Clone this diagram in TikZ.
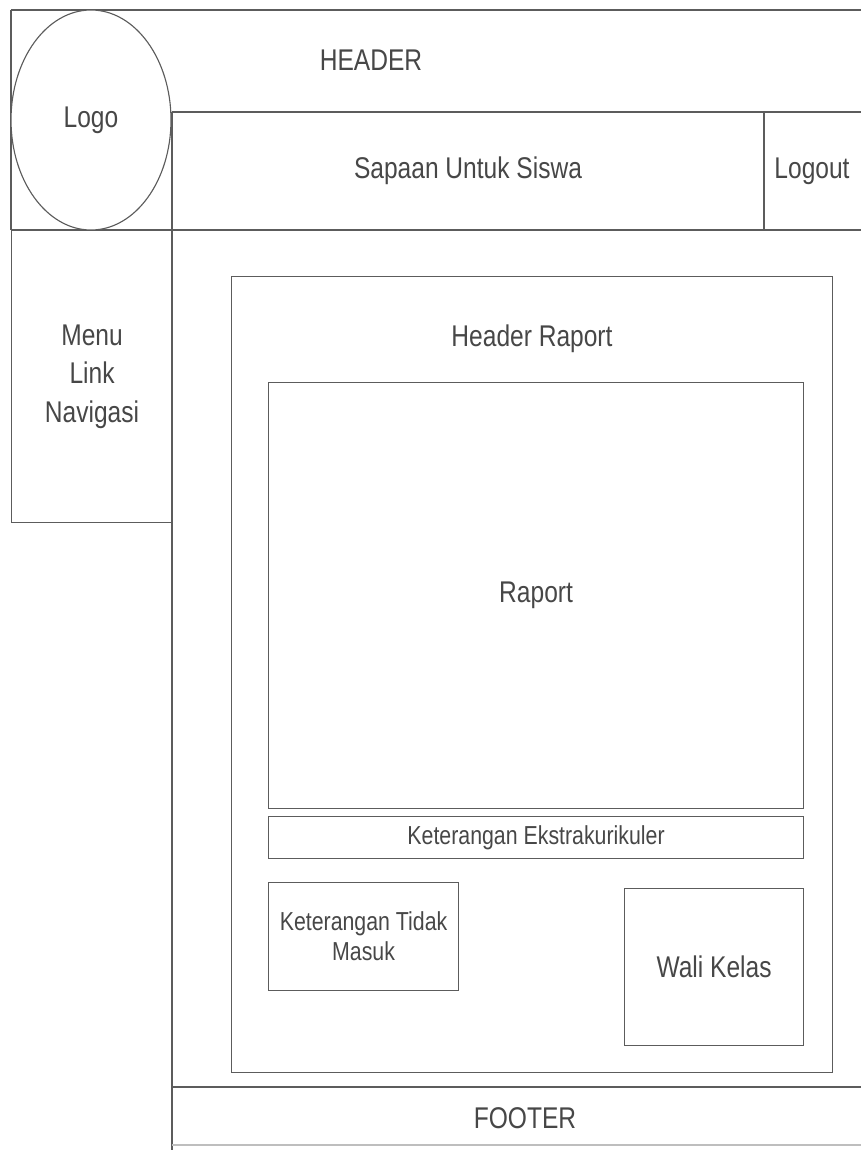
\documentclass[tikz,border=0pt]{standalone}
\usepackage{fontspec}
\setmainfont{Liberation Sans}[FakeStretch=0.82]
\usetikzlibrary{shapes.geometric, positioning}
\definecolor{clrLine}{HTML}{5C5C5C}
\definecolor{clrText}{HTML}{474747}

\begin{document}
\begin{tikzpicture}[
    frame/.style={draw=clrLine, line width=0.8pt},
    zone/.style={rectangle, draw=clrLine, line width=0.8pt, inner sep=0pt, anchor=north west, align=center, text=clrText, font=\fontsize{21.3}{27.4}\selectfont},
    smallzone/.style={zone, font=\fontsize{18.5}{21.3}\selectfont},
    lbl/.style={align=center, inner sep=0pt, text=clrText, font=\fontsize{21.3}{27.4}\selectfont},
]
\useasboundingbox (0,0) rectangle (21.525,-28.75);

% Page frame
\draw[frame] (0.275,-0.25) -- (21.525,-0.25);
\draw[frame] (0.275,-0.25) -- (0.275,-5.75);
\draw[frame] (4.3,-2.8) -- (21.525,-2.8);
\draw[frame] (0.275,-5.75) -- (21.525,-5.75);
\draw[frame] (4.3,-2.8) -- (4.3,-28.75);
\draw[frame] (19.1,-2.8) -- (19.1,-5.75);
\draw[frame] (4.3,-27.175) -- (21.525,-27.175);
\draw[frame, draw=clrLine!40] (4.3,-28.625) -- (21.525,-28.625);

% Header row
\node[lbl] (header) at (9.275,-1.5) {HEADER};
\node[ellipse, draw=clrLine, line width=0.8pt, fill=white, minimum width=4cm, minimum height=5.5cm, inner sep=0pt, text=clrText, font=\fontsize{21.3}{27.4}\selectfont] (logo) at (2.275,-3.0) {Logo};
\node[lbl] (sapaan) at (11.7,-4.275) {Sapaan Untuk Siswa};
\node[lbl] (logout) at (20.3,-4.275) {Logout};

% Navigation
\node[zone, minimum width=4.025cm, minimum height=7.3cm] (menu) at (0.275,-5.75) {Menu\\Link\\Navigasi};

% Raport area
\node[zone, minimum width=15.025cm, minimum height=19.9cm] (wadah) at (5.775,-6.9) {};
\node[lbl] (headraport) at (13.3,-8.475) {Header Raport};
\node[zone, minimum width=13.375cm, minimum height=10.65cm] (raport) at (6.7,-9.55) {Raport};
\node[smallzone, minimum width=13.375cm, minimum height=1.05cm] (ekstra) at (6.7,-20.4) {Keterangan Ekstrakurikuler};
\node[smallzone, minimum width=4.75cm, minimum height=2.7cm] (absen) at (6.7,-22.05) {Keterangan Tidak\\Masuk};
\node[zone, minimum width=4.475cm, minimum height=3.925cm] (wali) at (15.6,-22.2) {Wali Kelas};

% Footer
\node[lbl] (footer) at (13.125,-27.95) {FOOTER};

\end{tikzpicture}
\end{document}
